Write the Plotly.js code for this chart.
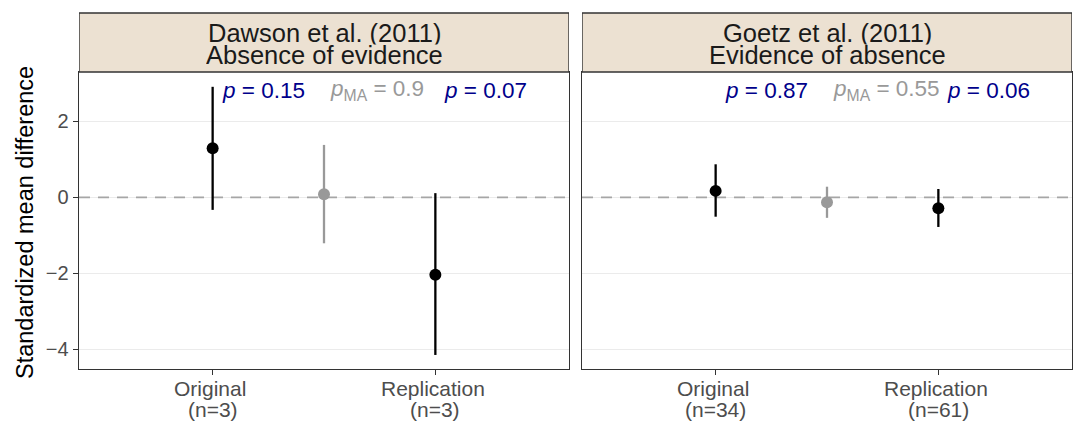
<!DOCTYPE html>
<html>
<head>
<meta charset="utf-8">
<script src="https://cdn.plot.ly/plotly-3.0.1.min.js"></script>
<style>html,body{margin:0;padding:0;background:#fff;}#chart{width:1078px;height:424px;}</style>
</head>
<body>
<div id="chart"></div>
<script>
// ---------- data ----------
const categories = ["Original", "Meta-analysis", "Replication"];
const panelTitleLines = [["Dawson et al. (2011)", "Absence of evidence"], ["Goetz et al. (2011)", "Evidence of absence"]];
const tickCats = ["Original", "Replication"];
const tickSizesDawson = ["(n=3)", "(n=3)"];
const tickSizesGoetz = ["(n=34)", "(n=61)"];
const dawsonEst = [1.29, 0.08, -2.04];
const dawsonLower = [-0.33, -1.21, -4.15];
const dawsonUpper = [2.91, 1.38, 0.11];
const goetzEst = [0.17, -0.13, -0.29];
const goetzLower = [-0.51, -0.54, -0.78];
const goetzUpper = [0.87, 0.28, 0.22];
const dawsonP = ["0.15", "0.9", "0.07"];
const goetzP = ["0.87", "0.55", "0.06"];
const yTicks = [-4, -2, 0, 2];

// ---------- styles ----------
const FONT = "Liberation Sans, Arial, sans-serif";
const W = 1078, H = 424;
const plotTop = 72, plotBot = 369;
const p1 = [79, 569], p2 = [582, 1072];
const navy = "#00008B", grey = "#999999";
const yRange = [-4.52, 3.30];
const xRange = [-1.2, 3.2];
const py = v => (H - v) / H;   // pixel row -> paper fraction

function panelTraces(est, lo, hi, xa, ya) {
  const out = [];
  const groups = [
    {idx: [0, 2], color: "#000000"},
    {idx: [1], color: grey}
  ];
  groups.forEach(g => {
    out.push({
      type: "scatter", mode: "markers",
      x: g.idx.map(i => categories[i]),
      y: g.idx.map(i => est[i]),
      error_y: {type: "data", symmetric: false,
        array: g.idx.map(i => hi[i] - est[i]),
        arrayminus: g.idx.map(i => est[i] - lo[i]),
        color: g.color, thickness: 2.3, width: 0},
      marker: {color: g.color, size: 12},
      xaxis: xa, yaxis: ya, showlegend: false, hoverinfo: "skip"
    });
  });
  return out;
}

const traces = [
  ...panelTraces(dawsonEst, dawsonLower, dawsonUpper, "x", "y"),
  ...panelTraces(goetzEst, goetzLower, goetzUpper, "x2", "y2")
];

function xaxis(dom, anchor) {
  return {
    domain: [dom[0] / W, dom[1] / W],
    anchor: anchor,
    type: "category", categoryorder: "array", categoryarray: categories,
    range: xRange,
    tickmode: "array", tickvals: tickCats,
    showticklabels: false,
    ticks: "outside", ticklen: 5, tickwidth: 1.3, tickcolor: "#333333",
    showgrid: false, zeroline: false,
    showline: true, mirror: true, linecolor: "#333333", linewidth: 1.4,
    fixedrange: true
  };
}
function yaxis(anchor, showLabels) {
  return {
    domain: [py(plotBot), py(plotTop)],
    anchor: anchor,
    range: yRange,
    tickmode: "array", tickvals: yTicks,
    ticks: showLabels ? "outside" : "", ticklen: 5, tickwidth: 1.3, tickcolor: "#333333",
    showticklabels: showLabels,
    tickfont: {family: FONT, size: 20, color: "#4D4D4D"},
    showgrid: true, gridcolor: "#EBEBEB", gridwidth: 1.4,
    zeroline: false,
    showline: true, mirror: true, linecolor: "#333333", linewidth: 1.4,
    fixedrange: true
  };
}

const shapes = [];
const annotations = [];
const panels = [
  {xa: "x", ya: "y", title: panelTitleLines[0], sizes: tickSizesDawson, p: dawsonP},
  {xa: "x2", ya: "y2", title: panelTitleLines[1], sizes: tickSizesGoetz, p: goetzP}
];
panels.forEach(pn => {
  // strip
  shapes.push({
    type: "rect", xref: pn.xa, yref: "paper",
    x0: xRange[0], x1: xRange[1], y0: py(plotTop), y1: py(13),
    fillcolor: "#ECE1D2", line: {color: "#333333", width: 1.4}
  });
  [33, 55.5].forEach((row, k) => {
    annotations.push({
      xref: pn.xa, yref: "paper",
      x: (xRange[0] + xRange[1]) / 2, y: py(row), text: pn.title[k], showarrow: false,
      font: {family: FONT, size: 25.5, color: "#1A1A1A"},
      height: 22.5, valign: "middle",
      xanchor: "center", yanchor: "middle"
    });
  });
  // zero reference line (between gridlines and data)
  shapes.push({
    type: "line", xref: pn.xa, yref: pn.ya,
    x0: xRange[0], x1: xRange[1], y0: 0, y1: 0, layer: "between",
    line: {color: "#A6A6A6", width: 1.8, dash: "11px,8px"}
  });
  // x tick labels (two lines, tight spacing)
  tickCats.forEach((c, i) => {
    annotations.push({
      xref: pn.xa, yref: "paper", x: c, y: py(388.7), text: c, showarrow: false, xshift: -2.5,
      font: {family: FONT, size: 21, color: "#4D4D4D"}, xanchor: "center", yanchor: "middle"
    });
    annotations.push({
      xref: pn.xa, yref: "paper", x: c, y: py(409.5), text: pn.sizes[i], showarrow: false,
      font: {family: FONT, size: 21, color: "#4D4D4D"}, xanchor: "center", yanchor: "middle"
    });
  });
  // p-value labels
  pn.p.forEach((p, i) => {
    const isMA = i === 1;
    annotations.push({
      xref: pn.xa, yref: pn.ya, x: categories[i], y: 2.82,
      text: isMA ? "<i>p</i><sub>MA</sub> = " + p : "<i>p</i> = " + p,
      showarrow: false, xanchor: "left", yanchor: "middle", xshift: isMA ? 4 : 7,
      font: {family: FONT, size: 22.5, color: isMA ? grey : navy}
    });
  });
});

annotations.push({
  xref: "paper", yref: "paper", x: 24.5 / W, y: py((plotTop + plotBot) / 2 + 2),
  text: "Standardized mean difference", textangle: -90, showarrow: false,
  font: {family: FONT, size: 23.5, color: "#000000"},
  xanchor: "center", yanchor: "middle"
});

const layout = {
  width: W, height: H,
  margin: {l: 0, r: 0, t: 0, b: 0},
  paper_bgcolor: "#FFFFFF", plot_bgcolor: "#FFFFFF",
  xaxis: xaxis(p1, "y"),
  xaxis2: xaxis(p2, "y2"),
  yaxis: yaxis("x", true),
  yaxis2: yaxis("x2", false),
  shapes: shapes,
  annotations: annotations,
  font: {family: FONT}
};

Plotly.newPlot("chart", traces, layout, {staticPlot: true, displayModeBar: false});
</script>
</body>
</html>
